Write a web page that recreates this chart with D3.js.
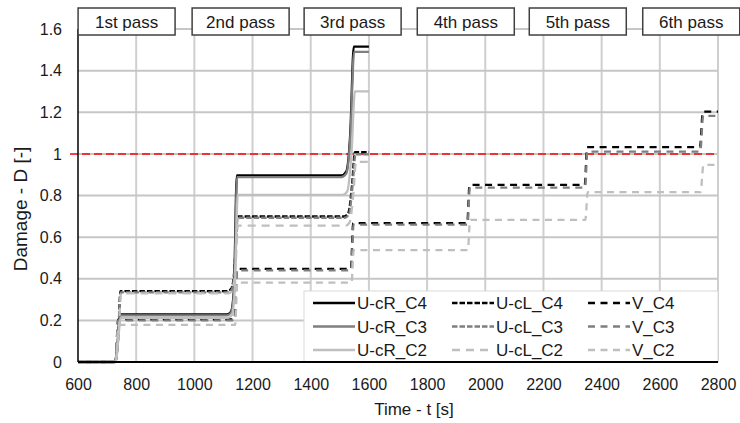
<!DOCTYPE html>
<html>
<head>
<meta charset="utf-8">
<script src="https://cdn.jsdelivr.net/npm/d3@7"></script>
<style>
    body { margin: 0; background: #fff; }
    text { font-family: "Liberation Sans", Arial, sans-serif; fill: #1a1a1a; }
</style>
</head>
<body>
<div id="chart"></div>
<script>
// damage values, [time s, D]
const uCrC4 = [[600,0],[727,0],[737,0.1],[744,0.229],[1112,0.229],[1126,0.242],[1136,0.35],[1146,0.896],[1505,0.896],[1522,0.915],[1536,1.1],[1548,1.515],[1600,1.515]];
const uCrC3 = [[600,0],[727,0],[737,0.1],[745,0.224],[1112,0.224],[1126,0.237],[1137,0.35],[1147,0.888],[1505,0.888],[1522,0.905],[1537,1.1],[1549,1.49],[1600,1.49]];
const uCrC2 = [[600,0],[728,0],[738,0.1],[746,0.212],[1115,0.212],[1129,0.225],[1139,0.35],[1149,0.803],[1510,0.803],[1525,0.818],[1540,1.0],[1552,1.3],[1600,1.3]];

const uClC4 = [[600,0],[728,0],[738,0.12],[746,0.341],[1115,0.341],[1128,0.355],[1138,0.45],[1148,0.699],[1515,0.699],[1530,0.72],[1542,0.85],[1552,1.008],[1600,1.008]];
const uClC3 = [[600,0],[728,0],[738,0.12],[747,0.335],[1116,0.335],[1129,0.349],[1139,0.45],[1149,0.693],[1517,0.693],[1532,0.712],[1544,0.85],[1554,0.998],[1600,0.998]];
const uClC2 = [[600,0],[729,0],[739,0.12],[748,0.33],[1118,0.33],[1131,0.342],[1141,0.45],[1150,0.655],[1520,0.655],[1534,0.672],[1546,0.8],[1556,0.962],[1600,0.962]];

const vC4 = [[600,0],[729,0],[738,0.205],[1138,0.205],[1146,0.447],[1538,0.447],[1546,0.667],[1938,0.667],[1946,0.851],[2342,0.851],[2350,1.032],[2738,1.032],[2748,1.203],[2800,1.203]];
const vC3 = [[600,0],[729,0],[738,0.2],[1139,0.2],[1147,0.44],[1539,0.44],[1547,0.66],[1939,0.66],[1947,0.838],[2343,0.838],[2351,1.011],[2739,1.011],[2749,1.183],[2800,1.183]];
const vC2 = [[600,0],[730,0],[739,0.178],[1140,0.178],[1148,0.381],[1540,0.381],[1548,0.538],[1940,0.538],[1948,0.683],[2344,0.683],[2352,0.816],[2740,0.816],[2750,0.947],[2800,0.947]];

const seriesNames = ["U-cR_C4", "U-cL_C4", "V_C4", "U-cR_C3", "U-cL_C3", "V_C3", "U-cR_C2", "U-cL_C2", "V_C2"];
const seriesValues = [uCrC4, uClC4, vC4, uCrC3, uClC3, vC3, uCrC2, uClC2, vC2];

const passLabels = ["1st pass", "2nd pass", "3rd pass", "4th pass", "5th pass", "6th pass"];
const passLabelTimes = [767, 1159, 1544, 1933, 2318, 2708];

const xTicks = [600, 800, 1000, 1200, 1400, 1600, 1800, 2000, 2200, 2400, 2600, 2800];
const yTicks = [0, 0.2, 0.4, 0.6, 0.8, 1, 1.2, 1.4, 1.6];
const damageLimit = 1;

// line looks per series
const styles = {
    "U-cR_C4": { color: "#000000", dash: null },
    "U-cR_C3": { color: "#7f7f7f", dash: null },
    "U-cR_C2": { color: "#bfbfbf", dash: null },
    "U-cL_C4": { color: "#000000", dash: "5.5,2" },
    "U-cL_C3": { color: "#7f7f7f", dash: "5.5,2" },
    "U-cL_C2": { color: "#bfbfbf", dash: "8,6" },
    "V_C4": { color: "#000000", dash: "7,5.5" },
    "V_C3": { color: "#7f7f7f", dash: "7,5.5" },
    "V_C2": { color: "#bfbfbf", dash: "7,5.5" }
};

class DamageChart {
    constructor(parentElement) {
        this.parentElement = parentElement;
        this.data = seriesNames.map((n, i) => ({ name: n, values: seriesValues[i] }));
        this.initVis();
    }

    initVis() {
        let vis = this;

        let margin = { top: 29, right: 22, bottom: 61, left: 78 },
            width = 740 - margin.left - margin.right,
            height = 423 - margin.top - margin.bottom;

        let x = d3.scaleLinear().domain([600, 2800]).range([0, width]);
        let y = d3.scaleLinear().domain([0, 1.6]).range([height, 0]);

        let svg = d3.select(vis.parentElement).append("svg")
            .attr("width", width + margin.left + margin.right)
            .attr("height", height + margin.top + margin.bottom)
            .append("g").attr("transform", "translate(" + margin.left + "," + margin.top + ")");

        // grid
        svg.append("g").selectAll("line").data(xTicks.slice(1)).join("line")
            .attr("x1", d => x(d)).attr("x2", d => x(d))
            .attr("y1", 0).attr("y2", height)
            .attr("stroke", "#cfcfcf").attr("stroke-width", 2);
        svg.append("g").selectAll("line").data(yTicks.slice(1)).join("line")
            .attr("x1", 0).attr("x2", width)
            .attr("y1", d => y(d)).attr("y2", d => y(d))
            .attr("stroke", "#c6c6c6").attr("stroke-width", 2);

        // D = 1 limit
        svg.append("line")
            .attr("x1", -8).attr("x2", width)
            .attr("y1", y(damageLimit)).attr("y2", y(damageLimit))
            .attr("stroke", "#ff0000").attr("stroke-width", 1.5)
            .attr("stroke-dasharray", "8,4");

        let valueline = d3.line()
            .x(d => x(d[0]))
            .y(d => y(d[1]))
            .curve(d3.curveMonotoneX);

        svg.append("g").selectAll("path").data(vis.data).join("path")
            .attr("d", d => valueline(d.values))
            .attr("fill", "none")
            .attr("stroke", d => styles[d.name].color)
            .attr("stroke-width", 2.3)
            .attr("stroke-dasharray", d => styles[d.name].dash);

        // legend
        let legend = svg.append("g").attr("transform", "translate(226,262)");
        legend.append("rect")
            .attr("width", 414).attr("height", 71)
            .attr("fill", "#fff").attr("stroke", "#d9d9d9");
        let colX = [9, 148, 284], rowY = [12, 35.5, 59];
        let items = legend.selectAll("g.item").data(vis.data).join("g")
            .attr("class", "item")
            .attr("transform", (d, i) => "translate(" + colX[i % 3] + "," + rowY[Math.floor(i / 3)] + ")");
        items.append("line")
            .attr("x1", 0).attr("x2", 42)
            .attr("stroke", d => styles[d.name].color)
            .attr("stroke-width", 2.3)
            .attr("stroke-dasharray", d => styles[d.name].dash);
        items.append("text")
            .attr("x", 44).attr("y", 6)
            .style("font-size", "17px")
            .text(d => d.name);

        // axes
        let xAxis = svg.append("g")
            .attr("transform", "translate(0," + height + ")")
            .call(d3.axisBottom(x).tickValues(xTicks).tickSize(0).tickPadding(17).tickFormat(d3.format("d")));
        xAxis.select(".domain").remove();
        xAxis.selectAll("text").style("font-size", "16px").style("fill", "#1a1a1a");

        let yAxis = svg.append("g")
            .call(d3.axisLeft(y).tickValues(yTicks).tickSize(0).tickPadding(16).tickFormat(d => +d.toFixed(1)));
        yAxis.select(".domain").remove();
        yAxis.selectAll("text").style("font-size", "16px").style("fill", "#1a1a1a");

        svg.append("line")
            .attr("x1", 0).attr("x2", 0).attr("y1", 0).attr("y2", height)
            .attr("stroke", "#000").attr("stroke-width", 1.5);
        svg.append("line")
            .attr("x1", 0).attr("x2", width).attr("y1", height).attr("y2", height)
            .attr("stroke", "#000").attr("stroke-width", 2);

        // pass labels
        let passes = svg.append("g").selectAll("g").data(passLabels).join("g")
            .attr("transform", (d, i) => "translate(" + x(passLabelTimes[i]) + ",-21)");
        passes.append("rect")
            .attr("x", -48.5).attr("width", 97).attr("height", 27)
            .attr("fill", "#fff").attr("stroke", "#404040").attr("stroke-width", 1.5);
        passes.append("text")
            .attr("text-anchor", "middle").attr("y", 20)
            .style("font-size", "17px")
            .text(d => d);

        // axis titles
        svg.append("text")
            .attr("x", 336).attr("y", 386)
            .attr("text-anchor", "middle")
            .style("font-size", "17px")
            .text("Time - t [s]");
        svg.append("text")
            .attr("transform", "translate(-51,180) rotate(-90)")
            .attr("text-anchor", "middle")
            .style("font-size", "19px")
            .text("Damage - D [-]");
    }
}

new DamageChart("#chart");
</script>
</body>
</html>
